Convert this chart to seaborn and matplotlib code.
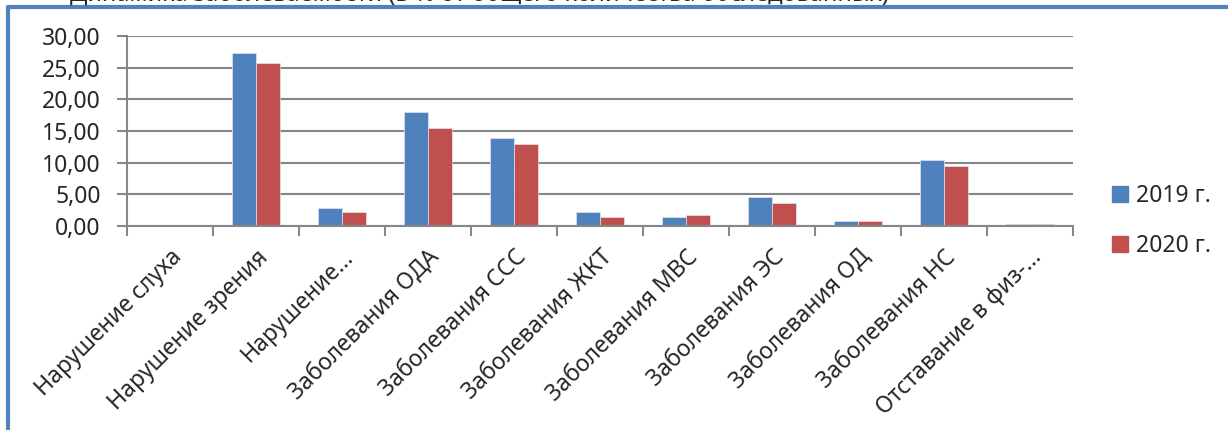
import numpy as np
import pandas as pd
import matplotlib
matplotlib.use('Agg')
import matplotlib.pyplot as plt
import seaborn as sns
from matplotlib.lines import Line2D
from matplotlib.ticker import FuncFormatter, MultipleLocator

categories = ['Нарушение слуха', 'Нарушение зрения', 'Нарушение...',
              'Заболевания ОДА', 'Заболевания ССС', 'Заболевания ЖКТ',
              'Заболевания МВС', 'Заболевания ЭС', 'Заболевания ОД',
              'Заболевания НС', 'Отставание в физ-...']
vals_2019 = [0.0, 27.3, 2.9, 18.0, 13.9, 2.2, 1.5, 4.6, 0.75, 10.4, 0.25]
vals_2020 = [0.0, 25.8, 2.2, 15.4, 12.9, 1.4, 1.7, 3.7, 0.75, 9.4, 0.25]
years = ['2019 г.', '2020 г.']
colors = ['#4F81BD', '#C0504D']

df = pd.DataFrame({
    'cat': categories * 2,
    'val': vals_2019 + vals_2020,
    'year': [years[0]] * len(categories) + [years[1]] * len(categories),
})

sns.set_theme(style='white')
plt.rcParams['font.family'] = ['Noto Sans', 'DejaVu Sans']

fig = plt.figure(figsize=(12.28, 4.30), dpi=100)
ax = fig.add_axes([127 / 1228, 1 - 226 / 430, (1073 - 127) / 1228, (226 - 36) / 430])

sns.barplot(data=df, x='cat', y='val', hue='year', palette=colors, saturation=1, width=0.56,
            edgecolor='#dde5f0', linewidth=0.5, ax=ax, legend=True)

ax.set_ylim(0, 30)
ax.set_xlim(-0.5, len(categories) - 0.5)
ax.yaxis.set_major_locator(MultipleLocator(5))
ax.yaxis.set_major_formatter(FuncFormatter(lambda v, p: f'{v:.2f}'.replace('.', ',')))
ax.grid(axis='y', color='#868686', lw=1.5)
ax.set_axisbelow(True)
for s in ['top', 'right']:
    ax.spines[s].set_visible(False)
for s in ['left', 'bottom']:
    ax.spines[s].set_color('#868686')
    ax.spines[s].set_linewidth(1.5)
ax.set_xlabel('')
ax.set_ylabel('')

# ticks on category boundaries, like the original
ax.set_xticks(np.arange(len(categories)))
ax.set_xticklabels(categories, rotation=45, ha='right', rotation_mode='anchor', fontsize=16.5)
ax.set_xticks(np.arange(len(categories) + 1) - 0.5, minor=True)
ax.tick_params(axis='x', which='major', length=0, pad=14)
ax.tick_params(axis='x', which='minor', length=7, width=1.5, color='#868686', bottom=True)
ax.tick_params(axis='y', length=7, width=1.5, color='#868686', left=True, labelsize=16.5, pad=12)

handles = [plt.Rectangle((0, 0), 1, 1, color=c) for c in colors]
ax.legend(handles, years, loc='center left', bbox_to_anchor=(1112 / 1228, 1 - 221 / 430),
          bbox_transform=fig.transFigure, frameon=False, fontsize=16.5,
          handlelength=0.7, handleheight=0.7, handletextpad=0.35, labelspacing=1.1,
          borderpad=0, borderaxespad=0)

# cut-off title and chart frame
fig.text(70 / 1228, 1 - 1.5 / 430, 'Динамика заболеваемости (в % от общего количества обследованных)',
         fontsize=17, fontweight='bold', va='baseline', ha='left')
fig.add_artist(Line2D([8 / 1228, 1], [1 - 7 / 430, 1 - 7 / 430], color='#4F81BD', lw=3,
                      transform=fig.transFigure))
fig.add_artist(Line2D([8 / 1228, 8 / 1228], [0, 1 - 7 / 430], color='#4F81BD', lw=3,
                      transform=fig.transFigure))

fig.savefig('out.png', dpi=100)
